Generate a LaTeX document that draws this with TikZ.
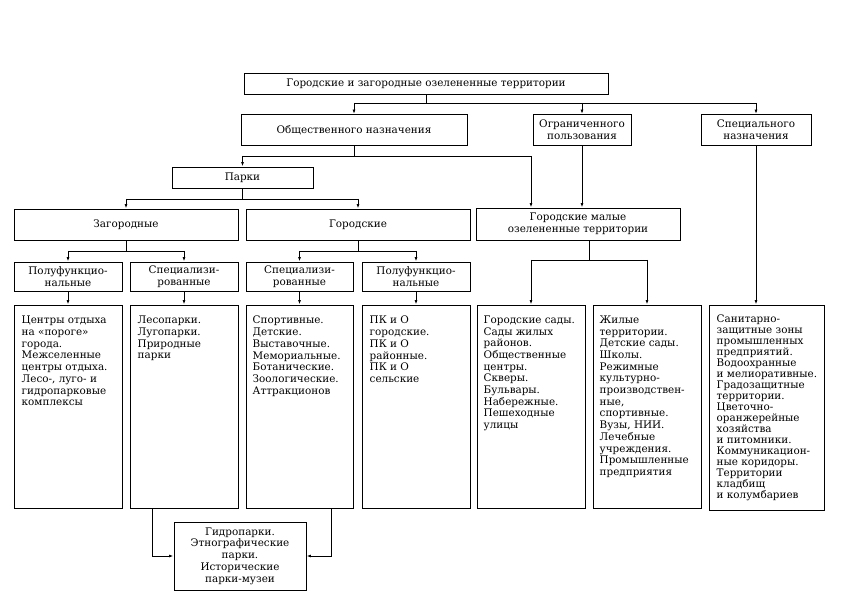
\documentclass[tikz,border=0pt]{standalone}
\usepackage{fontspec}
\setmainfont{DejaVu Serif}
\usetikzlibrary{arrows.meta,calc}
\newcommand\fsz{\fontsize{10.4}{11.7}\selectfont}
\newcommand\fszt{\fontsize{10.4}{11}\selectfont}
\tikzset{
  box/.style={draw, line width=0.95pt, inner sep=0pt, align=center, font=\fsz},
  bigbox/.style={draw, line width=0.95pt, inner sep=0pt},
  txt/.style={inner sep=0pt, align=left, anchor=north west, font=\fsz},
  conn/.style={line width=0.95pt},
  arr/.style={line width=0.95pt, -{Latex[length=4.5pt,width=3pt]}},
}
\begin{document}
\begin{tikzpicture}[x=1pt,y=-1pt]
\useasboundingbox (0,0) rectangle (859,601);
% top levels
\node[box, minimum width=364pt, minimum height=21pt] (top) at (426,83.5) {Городские и загородные озелененные территории};
\node[box, minimum width=226pt, minimum height=31pt] (obs) at (354,130) {Общественного назначения};
\node[box, minimum width=98pt, minimum height=31pt] (ogr) at (582,130) {Ограниченного\\пользования};
\node[box, minimum width=110pt, minimum height=31pt] (spec) at (756,130) {Специального\\назначения};
\node[box, minimum width=141pt, minimum height=21pt] (parki) at (242.5,177.5) {Парки};
\node[box, minimum width=224pt, minimum height=31pt] (zag) at (126,224.5) {Загородные};
\node[box, minimum width=224pt, minimum height=31pt] (gor) at (358,224.5) {Городские};
\node[box, minimum width=204pt, minimum height=32pt] (gm) at (578,224) {Городские малые\\озелененные территории};
% second row
\node[box, minimum width=108pt, minimum height=29pt] (p1) at (68,276.5) {Полуфункцио-\\нальные};
\node[box, minimum width=108pt, minimum height=29pt] (p2) at (184,276.5) {Специализи-\\рованные};
\node[box, minimum width=107pt, minimum height=29pt] (p3) at (299.5,276.5) {Специализи-\\рованные};
\node[box, minimum width=108pt, minimum height=29pt] (p4) at (416,276.5) {Полуфункцио-\\нальные};
% big boxes
\node[bigbox, minimum width=108pt, minimum height=203pt] (b1) at (68,406.5) {};
\node[bigbox, minimum width=108pt, minimum height=203pt] (b2) at (184,406.5) {};
\node[bigbox, minimum width=107pt, minimum height=203pt] (b3) at (299.5,406.5) {};
\node[bigbox, minimum width=108pt, minimum height=203pt] (b4) at (416,406.5) {};
\node[bigbox, minimum width=108pt, minimum height=203pt] (b5) at (531,406.5) {};
\node[bigbox, minimum width=108pt, minimum height=203pt] (b6) at (647,406.5) {};
\node[bigbox, minimum width=115pt, minimum height=205pt] (b7) at (766.5,407.5) {};
\node[box, minimum width=132pt, minimum height=68pt] (bot) at (240,556) {Гидропарки.\\Этнографические\\парки.\\Исторические\\парки-музеи};
% texts
\node[txt] (t1) at ([shift={(8pt,-11.5pt)}]b1.north west) {Центры отдыха\\на «пороге»\\города.\\Межселенные\\центры отдыха.\\Лесо-, луго- и\\гидропарковые\\комплексы};
\node[txt] (t2) at ([shift={(8pt,-11.5pt)}]b2.north west) {Лесопарки.\\Лугопарки.\\Природные\\парки};
\node[txt] (t3) at ([shift={(7pt,-11.5pt)}]b3.north west) {Спортивные.\\Детские.\\Выставочные.\\Мемориальные.\\Ботанические.\\Зоологические.\\Аттракционов};
\node[txt] (t4) at ([shift={(8pt,-11.5pt)}]b4.north west) {ПК и О\\городские.\\ПК и О\\районные.\\ПК и О\\сельские};
\node[txt] (t5) at ([shift={(7pt,-11pt)}]b5.north west) {Городские сады.\\Сады жилых\\районов.\\Общественные\\центры.\\Скверы.\\Бульвары.\\Набережные.\\Пешеходные\\улицы};
\node[txt] (t6) at ([shift={(7pt,-11pt)}]b6.north west) {Жилые\\территории.\\Детские сады.\\Школы.\\Режимные\\культурно-\\производствен-\\ные,\\спортивные.\\Вузы, НИИ.\\Лечебные\\учреждения.\\Промышленные\\предприятия};
\node[txt, font=\fszt] (t7) at ([shift={(8pt,-10pt)}]b7.north west) {Санитарно-\\защитные зоны\\промышленных\\предприятий.\\Водоохранные\\и мелиоративные.\\Градозащитные\\территории.\\Цветочно-\\оранжерейные\\хозяйства\\и питомники.\\Коммуникацион-\\ные коридоры.\\Территории\\кладбищ\\и колумбариев};
% levels
\coordinate (L1) at (0,103);
\coordinate (L2) at (0,156);
\coordinate (L3) at (0,199);
\coordinate (L4) at (0,251);
\coordinate (L5) at (0,260);
% connectors
\draw[conn] (top.south) -- (top.south |- L1);
\draw[conn] (obs.north |- L1) -- (spec.north |- L1);
\draw[arr] (obs.north |- L1) -- (obs.north);
\draw[arr] (ogr.north |- L1) -- (ogr.north);
\draw[arr] (spec.north |- L1) -- (spec.north);
\draw[conn] (obs.south) -- (obs.south |- L2);
\draw[conn] (parki.north |- L2) -- (b5.north |- L2);
\draw[arr] (parki.north |- L2) -- (parki.north);
\draw[arr] (b5.north |- L2) -- (b5.north |- gm.north);
\draw[arr] (ogr.south) -- (ogr.south |- gm.north);
\draw[arr] (spec.south) -- (spec.south |- b7.north);
\draw[conn] (parki.south) -- (parki.south |- L3);
\draw[conn] (zag.north |- L3) -- (gor.north |- L3);
\draw[arr] (zag.north |- L3) -- (zag.north);
\draw[arr] (gor.north |- L3) -- (gor.north);
\draw[conn] (zag.south) -- (zag.south |- L4);
\draw[conn] (p1.north |- L4) -- (p2.north |- L4);
\draw[arr] (p1.north |- L4) -- (p1.north);
\draw[arr] (p2.north |- L4) -- (p2.north);
\draw[conn] (gor.south) -- (gor.south |- L4);
\draw[conn] (p3.north |- L4) -- (p4.north |- L4);
\draw[arr] (p3.north |- L4) -- (p3.north);
\draw[arr] (p4.north |- L4) -- (p4.north);
\coordinate (m) at ($(b5.north)!.5!(b6.north)$);
\draw[conn] (m |- gm.south) -- (m |- L5);
\draw[conn] (b5.north |- L5) -- (b6.north |- L5);
\draw[arr] (b5.north |- L5) -- (b5.north);
\draw[arr] (b6.north |- L5) -- (b6.north);
\draw[arr] (p1.south) -- (b1.north);
\draw[arr] (p2.south) -- (b2.north);
\draw[arr] (p3.south) -- (b3.north);
\draw[arr] (p4.south) -- (b4.north);
\coordinate (cl) at (152,0);
\coordinate (cr) at (331,0);
\draw[arr] (cl |- b2.south) |- (bot.west);
\draw[arr] (cr |- b3.south) |- (bot.east);
\end{tikzpicture}
\end{document}
